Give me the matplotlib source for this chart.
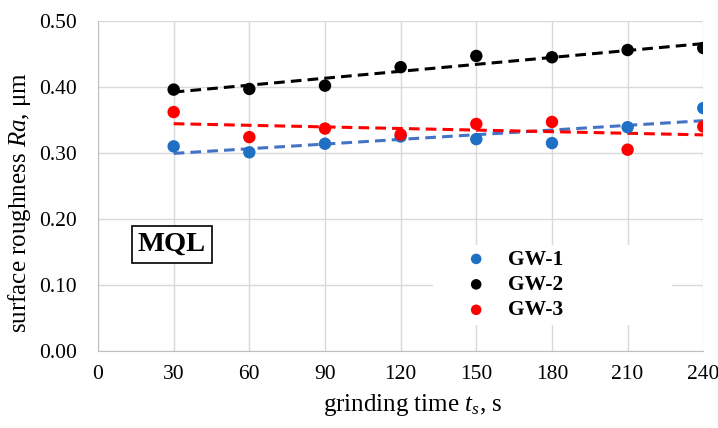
import matplotlib.pyplot as plt
from matplotlib.patches import Rectangle
import numpy as np

# grinding time (s) and surface roughness Ra (um)
time_s = [30, 60, 90, 120, 150, 180, 210, 240]
gw1 = [0.310, 0.301, 0.314, 0.325, 0.321, 0.315, 0.339, 0.368]
gw2 = [0.396, 0.397, 0.402, 0.430, 0.447, 0.445, 0.456, 0.459]
gw3 = [0.362, 0.324, 0.337, 0.328, 0.344, 0.347, 0.305, 0.340]
names = ["GW-1", "GW-2", "GW-3"]
x_ticks = [0, 30, 60, 90, 120, 150, 180, 210, 240]
y_ticks = [0.0, 0.1, 0.2, 0.3, 0.4, 0.5]

plt.rcParams["font.family"] = ["Liberation Serif", "DejaVu Serif"]
plt.rcParams["mathtext.fontset"] = "custom"
plt.rcParams["mathtext.rm"] = "Liberation Serif"
plt.rcParams["mathtext.it"] = "Liberation Serif:italic"

fig = plt.figure(figsize=(7.18, 4.28), dpi=100)
ax = fig.add_axes([0.1365, 0.180, 0.843, 0.771])

dot_colors = ["#1f6fc4", "#000000", "#ff0000"]
line_colors = ["#4472c4", "#000000", "#ff0000"]
handles = []
x = np.array(time_s)
for vals, name, dc, lc in zip([gw1, gw2, gw3], names, dot_colors, line_colors):
    # linear trendline like the spreadsheet one
    k, b = np.polyfit(x, vals, 1)
    ax.plot(x, k * x + b, color=lc, lw=2.2, ls=(0, (3.5, 2)), zorder=3)
    h = ax.scatter(time_s, vals, s=80, color=dc, zorder=4, label=name, edgecolors="none")
    handles.append(h)

ax.set_xlim(0, 240)
ax.set_ylim(0, 0.5)
ax.set_xticks(x_ticks)
ax.set_yticks(y_ticks)
ax.set_yticklabels([f"{v:.2f}" for v in y_ticks])
ax.tick_params(length=0, labelsize=15.5)
ax.tick_params(axis="y", pad=15)
ax.tick_params(axis="x", pad=10)
ax.grid(color="#d9d9d9", lw=1)
ax.set_axisbelow(True)
for side in ["top", "right"]:
    ax.spines[side].set_visible(False)
for side in ["left", "bottom"]:
    ax.spines[side].set_color("#bfbfbf")

ax.set_xlabel("grinding time $t_s$, s", fontsize=18)
ax.set_ylabel("surface roughness $Ra$, μm", fontsize=18)
ax.xaxis.set_label_coords(0.519, -0.125)
ax.yaxis.set_label_coords(-0.108, 0.45)

# white legend area that hides the grid behind it
ax.add_patch(Rectangle((0.554, 0.079), 0.395, 0.242, transform=ax.transAxes,
                       facecolor="white", edgecolor="none", zorder=1.5))
leg = ax.legend(handles=handles, loc="center left", bbox_to_anchor=(0.607, 0.2),
                frameon=False, prop={"weight": "bold", "size": 15.5},
                handletextpad=0.99, labelspacing=0.25, borderpad=0,
                borderaxespad=0, handlelength=1.0, scatterpoints=1,
                markerscale=0.85)
leg.set_zorder(5)

ax.text(0.122, 0.322, "MQL", transform=ax.transAxes, fontsize=20.5,
        fontweight="bold", va="center", ha="center",
        bbox=dict(boxstyle="square,pad=0.22", facecolor="white",
                  edgecolor="black", lw=1.2))

fig.savefig("out.png", dpi=100)
